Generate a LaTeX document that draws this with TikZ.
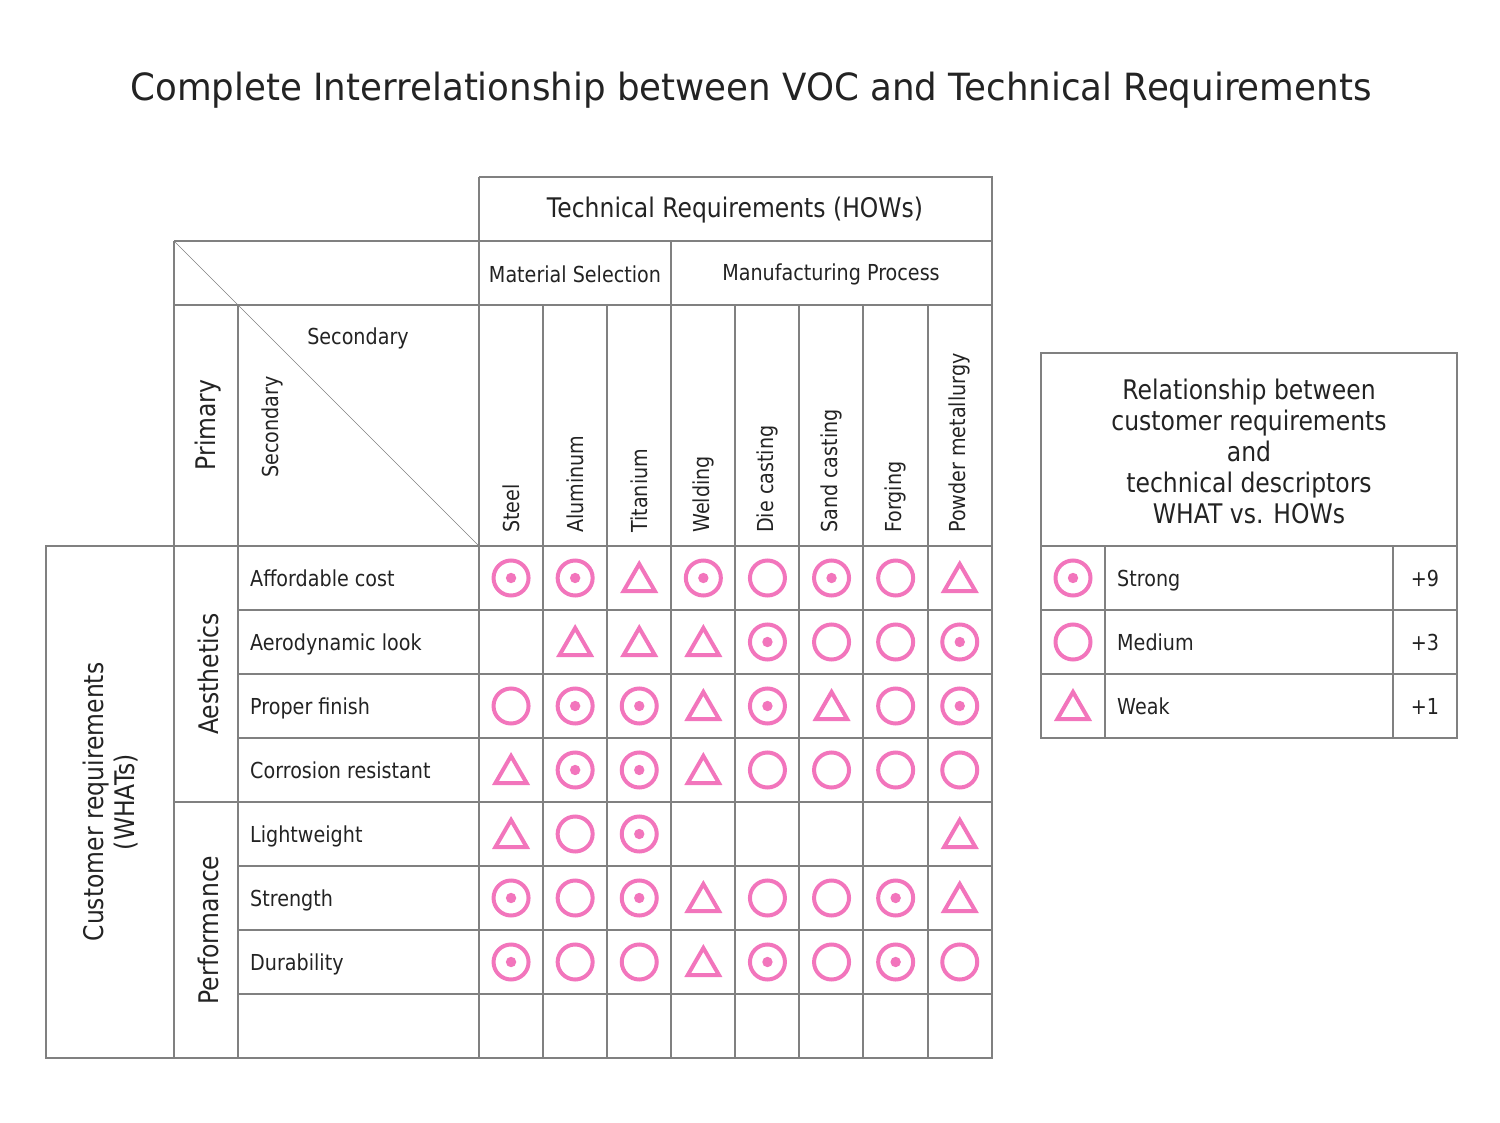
\documentclass[tikz,border=0pt]{standalone}
\usepackage{fontspec}
\setmainfont{DejaVu Sans}[FakeStretch=0.87]
\newfontfamily\titlefont{DejaVu Sans}[FakeStretch=0.95]
\usetikzlibrary{shapes.geometric}
\definecolor{qfdpink}{RGB}{242,117,188}
\definecolor{qfdgrid}{RGB}{128,128,128}
\definecolor{qfdtext}{RGB}{35,35,35}

\begin{document}
\begin{tikzpicture}[x=1pt,y=-1pt,
  grid/.style={draw=qfdgrid,line width=1.5pt},
  txt/.style={text=qfdtext,inner sep=0pt,font=\fontsize{22}{27}\selectfont},
  big/.style={text=qfdtext,inner sep=0pt,font=\fontsize{27}{31}\selectfont},
  medium/.style={circle,draw=qfdpink,line width=4pt,minimum size=35pt,inner sep=0pt},
  strong/.style={medium,path picture={\fill[qfdpink] (path picture bounding box.center) circle (5.2pt);}},
  weak/.style={regular polygon,regular polygon sides=3,draw=qfdpink,line width=4pt,
    minimum size=36pt,inner sep=0pt,yshift=-4pt}]
  \useasboundingbox (0,0) rectangle (1500,1123);
  \node[text=qfdtext,inner sep=0pt,font=\titlefont\fontsize{37.5}{42}\selectfont] (title) at (751,90)
    {Complete Interrelationship between VOC and Technical Requirements};

  \draw[grid] (479,177) -- (992,177) -- (992,1058) -- (46,1058) -- (46,546) -- (992,546);
  \draw[grid] (174,241) -- (992,241) (174,305) -- (992,305) (174,802) -- (992,802);
  \draw[grid] (174,241) -- (174,1058) (238,305) -- (238,1058) (479,177) -- (479,1058)
    (671,241) -- (671,1058);
  \foreach \y in {610,674,738,866,930,994}
    \draw[grid] (238,\y) -- (992,\y);
  \foreach \x in {543,607,735,799,863,928}
    \draw[grid] (\x,305) -- (\x,1058);
  \draw[draw=qfdgrid,thin] (174,241) -- (238,305) -- (479,546);

  \node[big] (hows) at (735,210) {Technical Requirements (HOWs)};
  \node[txt] (material) at (575,274) {Material Selection};
  \node[txt] (process) at (831,274) {Manufacturing Process};
  \node[txt] (sec-top) at (358,338) {Secondary};
  \node[txt,rotate=90,anchor=west] (sec-side) at (272,478) {Secondary};
  \node[big,rotate=90] (primary) at (208,425) {Primary};
  \node[big,rotate=90] (aesthetics) at (208,674) {Aesthetics};
  \node[big,rotate=90] (performance) at (208,930) {Performance};
  \node[big,rotate=90,align=center] (whats) at (111,802) {Customer requirements\\(WHATs)};

  \foreach \t [count=\c] in {Steel,Aluminum,Titanium,Welding,Die casting,Sand casting,Forging,Powder metallurgy}
    \node[txt,rotate=90,anchor=west] (how-\c) at ({479+64.1*(\c-0.5)},533) {\t};
  \foreach \t [count=\r] in {Affordable cost,Aerodynamic look,Proper finish,Corrosion resistant,Lightweight,Strength,Durability}
    \node[txt,anchor=base west] (what-\r) at (250,{546+64*(\r-0.5)+8.5}) {\t};

  \foreach \r/\c/\k in {1/1/strong,1/2/strong,1/3/weak,1/4/strong,1/5/medium,1/6/strong,1/7/medium,1/8/weak,
      2/2/weak,2/3/weak,2/4/weak,2/5/strong,2/6/medium,2/7/medium,2/8/strong,
      3/1/medium,3/2/strong,3/3/strong,3/4/weak,3/5/strong,3/6/weak,3/7/medium,3/8/strong,
      4/1/weak,4/2/strong,4/3/strong,4/4/weak,4/5/medium,4/6/medium,4/7/medium,4/8/medium,
      5/1/weak,5/2/medium,5/3/strong,5/8/weak,
      6/1/strong,6/2/medium,6/3/strong,6/4/weak,6/5/medium,6/6/medium,6/7/strong,6/8/weak,
      7/1/strong,7/2/medium,7/3/medium,7/4/weak,7/5/strong,7/6/medium,7/7/strong,7/8/medium}
    \node[\k] (rel-\r-\c) at ({479+64.1*(\c-0.5)},{546+64*(\r-0.5)}) {};

  \draw[grid] (1041,353) rectangle (1457,738);
  \draw[grid] (1041,546) -- (1457,546) (1041,610) -- (1457,610) (1041,674) -- (1457,674)
    (1105,546) -- (1105,738) (1393,546) -- (1393,738);
  \node[big,align=center] (legend) at (1249,451)
    {Relationship between\\customer requirements\\and\\technical descriptors\\WHAT vs. HOWs};
  \node[strong] (key-s) at (1073,578) {};
  \node[medium] (key-m) at (1073,642) {};
  \node[weak] (key-w) at (1073,706) {};
  \node[txt,anchor=base west] (strong) at (1117,586.5) {Strong};
  \node[txt,anchor=base west] (medium) at (1117,650.5) {Medium};
  \node[txt,anchor=base west] (weak) at (1117,714.5) {Weak};
  \node[txt,anchor=base] (plus9) at (1425,586.5) {+9};
  \node[txt,anchor=base] (plus3) at (1425,650.5) {+3};
  \node[txt,anchor=base] (plus1) at (1425,714.5) {+1};
\end{tikzpicture}
\end{document}
